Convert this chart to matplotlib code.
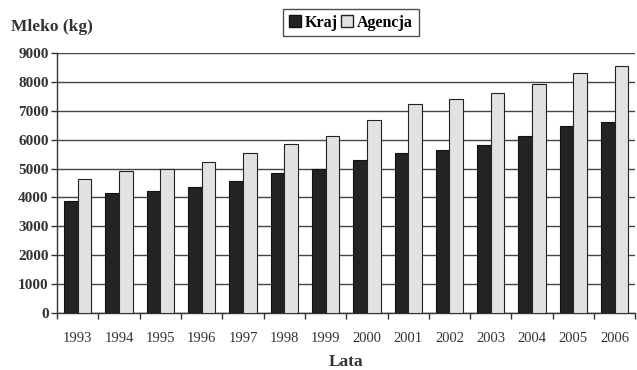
"""
Mleko (kg) - Kraj vs Agencja, lata 1993-2006.
Wykres slupkowy, wynik w out.png.
"""

import numpy as np
import matplotlib.pyplot as plt
from matplotlib.patches import Patch

plt.rcParams["font.family"] = ["Liberation Serif", "DejaVu Serif"]

# dane
LATA = ["1993", "1994", "1995", "1996", "1997", "1998", "1999",
        "2000", "2001", "2002", "2003", "2004", "2005", "2006"]
KRAJ = [3870, 4150, 4230, 4370, 4580, 4850, 4980,
        5290, 5540, 5650, 5820, 6110, 6470, 6620]
AGENCJA = [4630, 4900, 4990, 5220, 5540, 5860, 6140,
           6670, 7220, 7390, 7610, 7930, 8290, 8560]

KOLOR_KRAJ = "#232323"
KOLOR_AGENCJA = "#e2e2e2"

fig = plt.figure(figsize=(6.37, 3.70), dpi=100)
ax = fig.add_axes([0.0895, 0.154, 0.908, 0.703])

x = np.arange(len(LATA))
w = 0.33
ax.bar(x - w / 2, KRAJ, w, color=KOLOR_KRAJ, edgecolor="#111111", linewidth=0.8, zorder=3)
ax.bar(x + w / 2, AGENCJA, w, color=KOLOR_AGENCJA, edgecolor="#222222", linewidth=0.8, zorder=3)

ax.set_xlim(-0.5, len(LATA) - 0.5)
ax.set_ylim(0, 9000)
ax.set_yticks(range(0, 9001, 1000))
ax.set_yticklabels([str(v) for v in range(0, 9001, 1000)],
                   fontsize=11, fontweight="bold", color="#333333")

# etykiety lat pod grupami, kreski miedzy grupami
ax.set_xticks(np.arange(-0.5, len(LATA), 1.0))
ax.set_xticklabels([])
ax.set_xticks(x, minor=True)
ax.set_xticklabels(LATA, minor=True, fontsize=10.5, color="#333333")
ax.tick_params(axis="x", which="minor", length=0, pad=14)
ax.tick_params(axis="x", which="major", length=4, width=1, color="#333333")
ax.tick_params(axis="y", length=4, width=1, color="#333333", pad=2)

ax.yaxis.grid(True, color="#444444", linewidth=1.0)
ax.set_axisbelow(True)
for s in ("top", "right"):
    ax.spines[s].set_visible(False)
for s in ("left", "bottom"):
    ax.spines[s].set_color("#333333")
    ax.spines[s].set_linewidth(1.0)

fig.text(0.018, 0.927, "Mleko (kg)", fontsize=12.5, fontweight="bold", color="#333333",
         ha="left", va="center")
fig.text(0.543, 0.022, "Lata", fontsize=12.5, fontweight="bold", color="#333333",
         ha="center", va="center")

uchwyty = [Patch(facecolor=KOLOR_KRAJ, edgecolor="#111111", label="Kraj"),
           Patch(facecolor=KOLOR_AGENCJA, edgecolor="#222222", label="Agencja")]
leg = fig.legend(handles=uchwyty, loc="center", bbox_to_anchor=(0.551, 0.939), ncol=2,
                 frameon=True, fancybox=False, edgecolor="#222222",
                 handlelength=0.75, handleheight=0.75, handletextpad=0.25,
                 columnspacing=0.2, borderpad=0.35,
                 prop={"size": 11.5, "weight": "bold"})
leg.get_frame().set_linewidth(1.0)

fig.savefig("out.png", dpi=100)
